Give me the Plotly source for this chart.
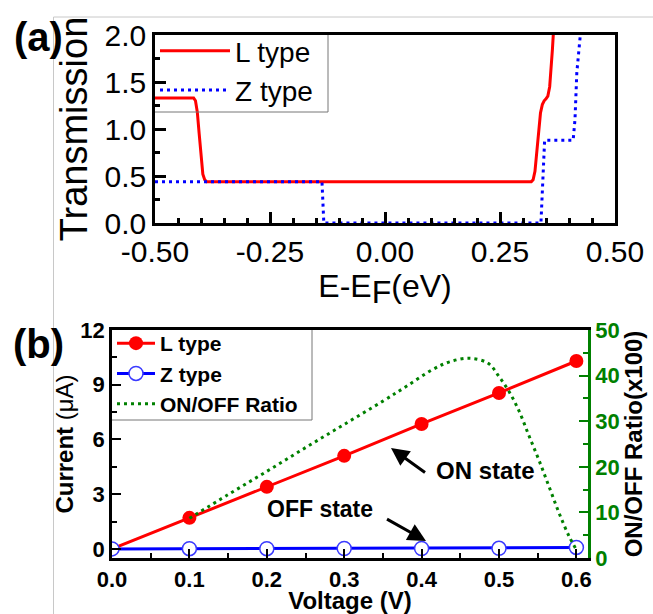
import plotly.graph_objects as go

W, H = 653, 614
FONT = "Liberation Sans, Arial, sans-serif"

# ---------------- Panel (a) data: transmission spectra ----------------
energy_L = [-0.5, -0.416, -0.412, -0.408, -0.404, -0.400, -0.396, -0.392, -0.388,
            0.318, 0.322, 0.326, 0.330, 0.334, 0.338, 0.342, 0.346, 0.350, 0.354,
            0.358, 0.361, 0.364, 0.367]
trans_L = [1.33, 1.33, 1.30, 1.18, 0.95, 0.70, 0.52, 0.46, 0.44,
           0.44, 0.46, 0.55, 0.75, 1.00, 1.17, 1.26, 1.30, 1.32, 1.35,
           1.45, 1.62, 1.85, 2.1]
energy_Z = [-0.5, -0.137, -0.133, 0.339, 0.347, 0.409, 0.413, 0.417, 0.424, 0.428]
trans_Z = [0.44, 0.44, 0.0, 0.0, 0.88, 0.88, 1.1, 1.6, 1.97, 2.1]
xticks_a = [-0.5, -0.25, 0.0, 0.25, 0.5]
xticklabels_a = ["-0.50", "-0.25", "0.00", "0.25", "0.50"]

# ---------------- Panel (b) data: I-V and ON/OFF ratio ----------------
voltage = [0.0, 0.1, 0.2, 0.3, 0.4, 0.5, 0.6]
current_L = [0.0, 1.7, 3.4, 5.1, 6.85, 8.55, 10.3]
current_Z = [0.0, 0.01, 0.01, 0.02, 0.02, 0.03, 0.08]
ratio_v = [0.1, 0.15, 0.2, 0.25, 0.3, 0.35, 0.38, 0.414, 0.436, 0.462, 0.486,
           0.5, 0.513, 0.526, 0.539, 0.552, 0.565, 0.578, 0.591, 0.6]
ratio = [8.7, 13.9, 19.0, 24.2, 29.3, 34.4, 37.6, 41.3, 43.0, 43.8, 42.7,
         39.8, 36.5, 32.2, 26.7, 21.3, 15.5, 9.7, 4.6, 1.8]

GREEN = "#008000"
BOXGRAY = "#777777"


def px_x(p):
    return p / W


def px_y(p):
    return 1 - p / H


fig = go.Figure()

# Panel (a)
fig.add_trace(go.Scatter(x=energy_L, y=trans_L, mode="lines", name="L type",
                         line=dict(color="#ff0000", width=3),
                         xaxis="x", yaxis="y", legend="legend"))
fig.add_trace(go.Scatter(x=energy_Z, y=trans_Z, mode="lines", name="Z type",
                         line=dict(color="#0000ff", width=3, dash="3px,4px"),
                         xaxis="x", yaxis="y", legend="legend"))

# Panel (b)
fig.add_trace(go.Scatter(x=voltage, y=current_L, mode="lines+markers", name="L type",
                         line=dict(color="#ff0000", width=3),
                         marker=dict(symbol="circle", size=14, color="#ff0000"),
                         xaxis="x2", yaxis="y2", legend="legend2"))
fig.add_trace(go.Scatter(x=voltage, y=current_Z, mode="lines+markers", name="Z type",
                         line=dict(color="#0000ff", width=3),
                         marker=dict(symbol="circle", size=14, color="white",
                                     line=dict(color="#3a3aff", width=1.5)),
                         xaxis="x2", yaxis="y2", legend="legend2"))
fig.add_trace(go.Scatter(x=ratio_v, y=ratio, mode="lines", name="ON/OFF Ratio",
                         line=dict(color=GREEN, width=3, dash="3px,4px", shape="spline"),
                         xaxis="x2", yaxis="y3", legend="legend2"))

tick_a = dict(family=FONT, size=30, color="black")
tick_b = dict(family=FONT, size=22, color="black", weight="bold")


def label(text, x, y, size, **kw):
    return dict(text=text, x=px_x(x), y=px_y(y), xref="paper", yref="paper",
                xanchor="center", yanchor="middle", showarrow=False,
                font=dict(family=FONT, size=size, color="black"), **kw)


def arrow(x_head, y_head, dx, dy):
    return dict(text=" ", x=px_x(x_head), y=px_y(y_head), xref="paper", yref="paper",
                xanchor="center", yanchor="middle",
                showarrow=True, ax=dx, ay=dy, arrowhead=2, arrowsize=1.2, arrowwidth=3,
                arrowcolor="black", font=dict(size=2))


def pline(x0, y0, x1, y1, color, width=1):
    return dict(type="line", xref="paper", yref="paper", x0=px_x(x0), x1=px_x(x1),
                y0=px_y(y0), y1=px_y(y1), line=dict(color=color, width=width))


fig.update_layout(
    template="none",
    width=W, height=H,
    margin=dict(l=0, r=0, t=0, b=0, pad=0),
    paper_bgcolor="white", plot_bgcolor="white",
    font=dict(family=FONT, color="black"),
    showlegend=True,
    xaxis=dict(domain=[px_x(155), px_x(615)], range=[-0.5, 0.5], anchor="y",
               automargin=False,
               tickvals=xticks_a, ticktext=xticklabels_a, tickfont=tick_a,
               ticks="inside", ticklen=11, tickwidth=2.5, tickcolor="black",
               minor=dict(dtick=0.05, ticks="inside", ticklen=5, tickwidth=2.5, tickcolor="black"),
               showline=True, linewidth=2.5, linecolor="black", mirror=True,
               showgrid=False, zeroline=False,
               title=dict(text="E-E<sub><span style='font-size:32px'>F</span></sub>(eV)",
                          font=dict(family=FONT, size=32), standoff=6)),
    yaxis=dict(domain=[px_y(223), px_y(35)], range=[0, 2], anchor="x",
               automargin=False,
               dtick=0.5, tickformat=".1f", tickfont=tick_a,
               ticks="inside", ticklen=11, tickwidth=2.5, tickcolor="black",
               minor=dict(dtick=0.25, ticks="inside", ticklen=5, tickwidth=2.5, tickcolor="black"),
               showline=True, linewidth=2.5, linecolor="black", mirror=True,
               showgrid=False, zeroline=False,
               title=dict(text="Transmission", font=dict(family=FONT, size=38), standoff=6)),
    xaxis2=dict(domain=[px_x(112), px_x(588)], range=[0, 0.615], anchor="y2",
                automargin=False,
                dtick=0.1, tickformat=".1f", tickfont=tick_b,
                ticks="inside", ticklen=9, tickwidth=2, tickcolor="black",
                minor=dict(dtick=0.05, ticks="inside", ticklen=5, tickwidth=2, tickcolor="black"),
                showline=True, linewidth=2.5, linecolor="black", mirror=True,
                showgrid=False, zeroline=False,
                title=dict(text="<b>Voltage (V)</b>", font=dict(family=FONT, size=24), standoff=10)),
    yaxis2=dict(domain=[px_y(558), px_y(330)], range=[-0.5, 12], anchor="x2",
                automargin=False,
                dtick=3, tickfont=tick_b,
                ticks="inside", ticklen=9, tickwidth=2, tickcolor="black",
                minor=dict(dtick=1.5, ticks="inside", ticklen=5, tickwidth=2, tickcolor="black"),
                showline=True, linewidth=2.5, linecolor="black", mirror=False,
                showgrid=False, zeroline=False,
                title=dict(text="<b>Current</b> (μA)", font=dict(family=FONT, size=24), standoff=0)),
    yaxis3=dict(overlaying="y2", side="right", anchor="x2", range=[0, 50],
                automargin=False,
                dtick=10, tickfont=dict(family=FONT, size=22, color=GREEN, weight="bold"),
                ticks="inside", ticklen=9, tickwidth=2, tickcolor=GREEN,
                minor=dict(dtick=5, ticks="inside", ticklen=5, tickwidth=2, tickcolor=GREEN),
                showline=True, linewidth=2.5, linecolor=GREEN,
                showgrid=False, zeroline=False,
                title=dict(text="<b>ON/OFF Ratio(x100)</b>", font=dict(family=FONT, size=24, color="black"),
                           standoff=2)),
    legend=dict(x=px_x(155), y=px_y(26), xanchor="left", yanchor="top",
                bgcolor="rgba(0,0,0,0)", borderwidth=0,
                font=dict(family=FONT, size=28), itemwidth=70,
                tracegroupgap=0),
    legend2=dict(x=px_x(112), y=px_y(323), xanchor="left", yanchor="top",
                 bgcolor="rgba(0,0,0,0)", borderwidth=0,
                 font=dict(family=FONT, size=21, weight="bold"), itemwidth=38,
                 tracegroupgap=0),
    shapes=[
        # image border lines of the original figure
        pline(53.5, 17, W, 17, "#c8c8c8"),
        pline(53.5, 17, 53.5, H, "#c8c8c8"),
        # legend box edges (a)
        pline(328, 35, 328, 112, BOXGRAY),
        pline(155, 112, 328, 112, BOXGRAY),
        # legend box edges (b)
        pline(312, 330, 312, 420, BOXGRAY),
        pline(112, 420, 312, 420, BOXGRAY),
    ],
    annotations=[
        label("<b>(a)</b>", 38, 37, 40),
        label("<b>(b)</b>", 38, 344, 40),
        label("<b>ON state</b>", 485, 470, 24),
        label("<b>OFF state</b>", 320, 509, 23),
        arrow(391, 448, 36, 26),
        arrow(426, 541, -41, -23),
    ],
)

fig.write_html("out.html", config={"displayModeBar": False},
               post_script="document.body.style.margin='0px';")
